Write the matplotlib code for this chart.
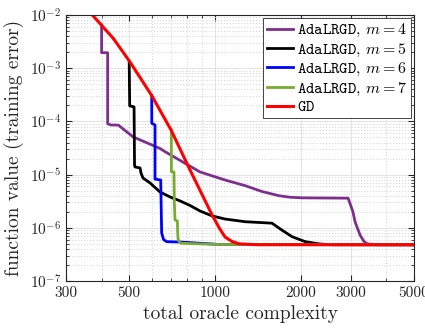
import matplotlib
matplotlib.use("Agg")
import matplotlib.pyplot as plt
from matplotlib.ticker import FixedLocator, NullFormatter, LogLocator

plt.rcParams['font.family'] = 'serif'
plt.rcParams['font.serif'] = ['cmr10']
plt.rcParams['mathtext.fontset'] = 'cm'
plt.rcParams['axes.formatter.use_mathtext'] = True

# curves (oracle complexity, function value)
m4_x = [400, 400, 420, 420, 431, 458, 516, 641, 668, 886, 1085, 1275, 1463, 1679, 1834, 2022, 2934,
        3050, 3104, 3231, 3330, 3420, 3700, 5000]
m4_y = [6.5e-3, 1.95e-3, 1.95e-3, 9.0e-5, 8.55e-5, 8.5e-5, 5.1e-5, 3.1e-5, 2.69e-5, 1.12e-5, 7.9e-6,
        6.2e-6, 4.8e-6, 4.0e-6, 3.75e-6, 3.65e-6, 3.6e-6, 2.0e-6, 1.29e-6, 7.3e-7, 5.6e-7, 5.0e-7, 4.8e-7, 4.8e-7]

m5_x = [500, 502, 520, 522, 524, 546, 550, 559, 592, 641, 696, 754, 820, 886, 977, 1085, 1275, 1586,
        1650, 1720, 1865, 2071, 2320, 2577, 5000]
m5_y = [1.3e-3, 1.95e-4, 1.87e-4, 1.5e-5, 1.39e-5, 1.33e-5, 1.07e-5, 8.6e-6, 6.95e-6, 4.71e-6, 3.79e-6,
        3.2e-6, 2.6e-6, 2.07e-6, 1.67e-6, 1.46e-6, 1.30e-6, 1.22e-6, 1.05e-6, 9.0e-7, 6.8e-7, 5.5e-7,
        4.97e-7, 4.8e-7, 4.8e-7]

m6_x = [600, 600, 616, 616, 645, 648, 650, 660, 677, 754, 1042, 5000]
m6_y = [3.0e-4, 9.2e-5, 8.55e-5, 8.2e-6, 7.9e-6, 2.0e-6, 8.0e-7, 6.0e-7, 5.48e-7, 5.4e-7, 4.85e-7, 4.8e-7]

m7_x = [703, 703, 718, 720, 724, 738, 740, 742, 750, 760, 1042, 5000]
m7_y = [6.9e-5, 1.13e-5, 1.12e-5, 3.0e-6, 1.40e-6, 1.34e-6, 8.0e-7, 6.2e-7, 5.4e-7, 5.12e-7, 4.85e-7, 4.8e-7]

gd_x = [371, 440, 503, 601, 701, 811, 977, 1040, 1085, 1150, 1215, 1400, 5000]
gd_y = [1.0e-2, 3.6e-3, 1.31e-3, 3.0e-4, 6.9e-5, 1.33e-5, 1.74e-6, 9.5e-7, 6.7e-7, 5.5e-7, 5.0e-7, 4.8e-7, 4.8e-7]

xticks = [300, 500, 1000, 2000, 3000, 5000]
xminor = [400, 600, 700, 800, 900, 4000]

fig = plt.figure(figsize=(4.25, 3.33), dpi=100)
ax = fig.add_axes([0.1553, 0.1562, 0.819, 0.799])

lw = 2.0
ax.plot(m4_x, m4_y, color=(0.494, 0.184, 0.556), lw=lw, label=r'$\mathtt{AdaLRGD}$, $m=4$')
ax.plot(m5_x, m5_y, color='black', lw=lw, label=r'$\mathtt{AdaLRGD}$, $m=5$')
ax.plot(m6_x, m6_y, color='blue', lw=lw, label=r'$\mathtt{AdaLRGD}$, $m=6$')
ax.plot(m7_x, m7_y, color=(0.466, 0.674, 0.188), lw=lw, label=r'$\mathtt{AdaLRGD}$, $m=7$')
ax.plot(gd_x, gd_y, color='red', lw=2.2, label=r'$\mathtt{GD}$')

ax.set_xscale('log')
ax.set_yscale('log')
ax.set_xlim(300, 5000)
ax.set_ylim(1e-7, 1e-2)

ax.xaxis.set_major_locator(FixedLocator(xticks))
ax.set_xticklabels([str(t) for t in xticks])
ax.xaxis.set_minor_locator(FixedLocator(xminor))
ax.xaxis.set_minor_formatter(NullFormatter())
ax.yaxis.set_major_locator(LogLocator(base=10, numticks=10))
ax.yaxis.set_minor_locator(LogLocator(base=10, subs=range(2, 10), numticks=10))
ax.yaxis.set_minor_formatter(NullFormatter())

ax.grid(which='major', color='#e3e3e3', lw=0.7, ls='-')
ax.grid(which='minor', color='#d0d0d0', lw=0.7, ls=(0, (1, 2)))
ax.set_axisbelow(True)

for s in ax.spines.values():
    s.set_color('#262626')
    s.set_linewidth(0.8)
ax.tick_params(which='both', direction='in', top=True, right=True, colors='#262626', labelsize=11)
ax.tick_params(which='major', length=4)
ax.tick_params(which='minor', length=2)

ax.set_xlabel('total oracle complexity', fontsize=14, color='#262626')
ax.set_ylabel('function value (training error)', fontsize=14, color='#262626')

leg = ax.legend(loc='upper right', fontsize=11.5, handlelength=1.6, handletextpad=0.25,
                labelspacing=0.15, borderpad=0.25, borderaxespad=0.2, fancybox=False,
                framealpha=1, edgecolor='#262626')
leg.get_frame().set_linewidth(0.6)

fig.savefig('out.png', dpi=100)
